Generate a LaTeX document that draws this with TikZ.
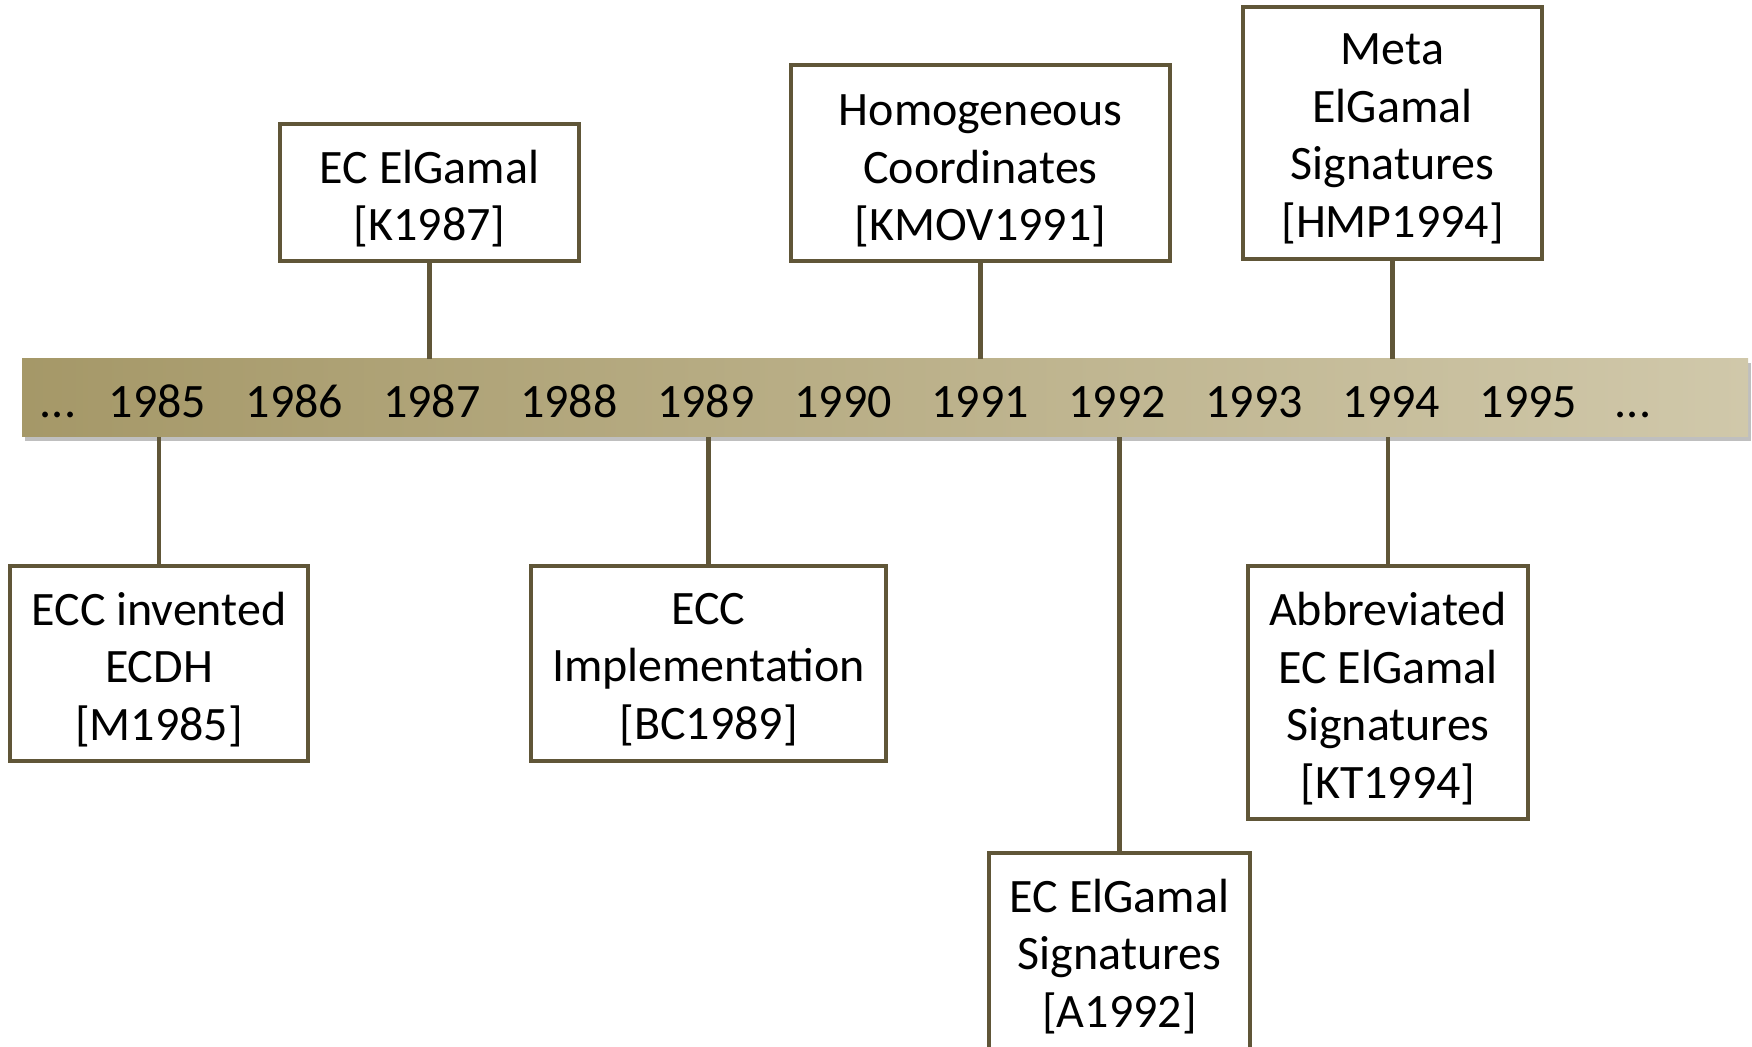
\documentclass[tikz,border=0pt]{standalone}
\usepackage{fontspec}
\setmainfont{Carlito}[Ligatures={Common,Rare}]
\usetikzlibrary{shadows}
\definecolor{olive}{RGB}{96,86,56}
\definecolor{barL}{RGB}{165,152,104}
\definecolor{barR}{RGB}{208,200,170}
\tikzset{
  evbox/.style={draw=olive, line width=2pt, fill=white, inner sep=0pt},
  evtext/.style={align=center, inner sep=0pt, yshift=-3pt,
    font=\fontsize{24}{28.75}\selectfont},
  yr/.style={anchor=base, inner sep=0pt, font=\fontsize{24}{28.75}\selectfont},
  conn/.style={draw=olive, line width=2.3pt},
}
\begin{document}
\begin{tikzpicture}[x=0.5pt,y=-0.5pt]
\useasboundingbox (0,0) rectangle (1752,1047);
% bar
\node (bar) [minimum width=863pt, minimum height=39pt, inner sep=0pt, left color=barL, right color=barR,
  drop shadow={shadow xshift=1.5pt, shadow yshift=-2pt, opacity=0.25, fill=black}] at (885,398) {};
% years
\node[yr] (dl) at (58,418) {...};
\foreach \y [count=\i from 0] in {1985,...,1995}{
  \node[yr] (y\y) at (157.5+137.1*\i,418) {\y};
}
\node[yr] (dr) at (1633,418) {...};
% boxes above
\node[evbox, minimum width=149.5pt, minimum height=68.5pt] (b87) at (429.5,192.5) {};
\node[evtext] (t87) at (b87.center) {EC ElGamal\\{}[K1987]};
\node[evbox, minimum width=189.5pt, minimum height=98pt] (b91) at (980.5,163) {};
\node[evtext, yshift=-1pt] (t91) at (b91.center) {Homogeneous\\Coordinates\\{}[KMOV1991]};
\node[evbox, minimum width=149.5pt, minimum height=126pt] (b94t) at (1392.5,133) {};
\node[evtext] (t94t) at (b94t.center) {Meta\\ElGamal\\Signatures\\{}[HMP1994]};
% boxes below
\node[evbox, minimum width=149pt, minimum height=97.5pt] (b85) at (159,663.5) {};
\node[evtext] (t85) at (b85.center) {ECC invented\\ECDH\\{}[M1985]};
\node[evbox, minimum width=177.5pt, minimum height=97.5pt] (b89) at (708.5,663.5) {};
\node[evtext] (t89) at (b89.center) {ECC\\Implementation\\{}[BC1989]};
\node[evbox, minimum width=130.5pt, minimum height=102pt] (b92) at (1119.5,955) {};
\node[evtext, yshift=2.2pt] (t92) at (b92.center) {EC ElGamal\\Signatures\\{}[A1992]};
\node[evbox, minimum width=140pt, minimum height=126.5pt] (b94b) at (1388,692.5) {};
\node[evtext] (t94b) at (b94b.center) {Abbreviated\\EC ElGamal\\Signatures\\{}[KT1994]};
% connectors
\draw[conn] (b87.south) -- (b87.south |- bar.north);
\draw[conn] (b91.south) -- (b91.south |- bar.north);
\draw[conn] (b94t.south) -- (b94t.south |- bar.north);
\draw[conn] (b85.north) -- (b85.north |- bar.south);
\draw[conn] (b89.north) -- (b89.north |- bar.south);
\draw[conn] (b92.north) -- (b92.north |- bar.south);
\draw[conn] (b94b.north) -- (b94b.north |- bar.south);
\end{tikzpicture}
\end{document}
